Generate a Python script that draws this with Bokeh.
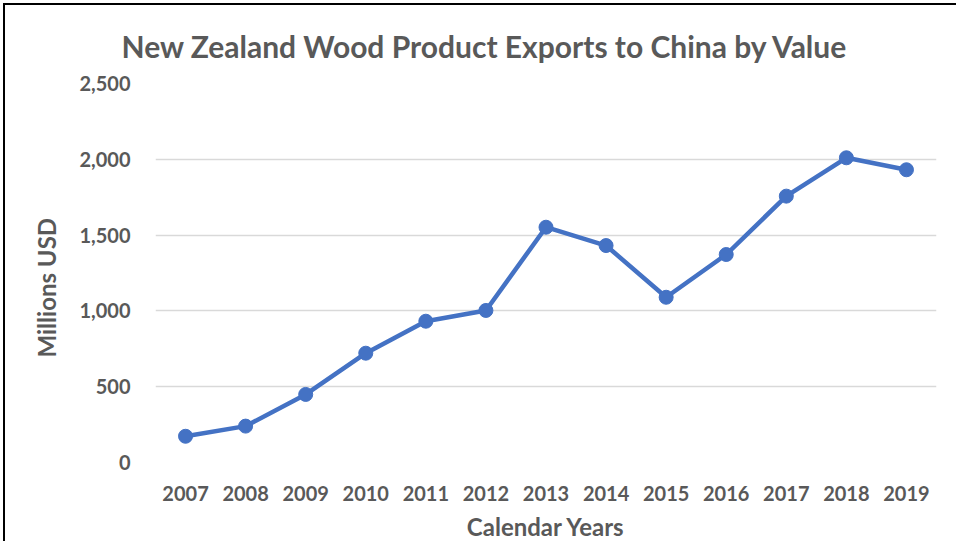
from bokeh.plotting import figure
from bokeh.models import (FactorRange, Range1d, NumeralTickFormatter, FixedTicker, Title)
from bokeh.embed import file_html
from bokeh.resources import INLINE

years = ["2007", "2008", "2009", "2010", "2011", "2012", "2013",
         "2014", "2015", "2016", "2017", "2018", "2019"]
values = [173, 240, 449, 721, 932, 1003, 1552, 1431, 1090, 1372, 1757, 2010, 1931]
y_ticks = [0, 500, 1000, 1500, 2000, 2500]

TEXT = "#595959"
FONT = "Lato"

p = figure(width=953, height=538, x_range=FactorRange(*years, range_padding=0),
           y_range=Range1d(0, 2500), output_backend="svg", toolbar_location=None,
           min_border_left=150, min_border_right=22, min_border_top=78,
           min_border_bottom=81,
           styles={"margin-left": "3px", "margin-top": "3px",
                   "border-left": "2px solid black", "border-top": "2px solid black",
                   "border-right": "none", "border-bottom": "none"})

p.title.text = "New Zealand Wood Product Exports to China by Value"
p.title.text_font = FONT
p.title.text_font_size = "30px"
p.title.text_font_style = "bold"
p.title.text_color = TEXT
p.title.align = "left"
p.title.offset = -34
p.title.standoff = 39

p.line(years, values, line_color="#4472C4", line_width=4.5)
p.scatter(years, values, size=14, fill_color="#4472C4", line_color="#4472C4")

p.outline_line_color = None
p.xgrid.grid_line_color = None
p.ygrid.grid_line_color = "#D9D9D9"
p.ygrid.grid_line_width = 1.5
p.yaxis.ticker = FixedTicker(ticks=y_ticks)
p.yaxis.formatter = NumeralTickFormatter(format="0,0")

for ax in (p.xaxis[0], p.yaxis[0]):
    ax.axis_line_color = None
    ax.major_tick_line_color = None
    ax.minor_tick_line_color = None
    ax.major_tick_out = 0
    ax.major_tick_in = 0
    ax.minor_tick_out = 0
    ax.major_label_text_font = FONT
    ax.major_label_text_font_size = "20px"
    ax.major_label_text_font_style = "bold"
    ax.major_label_text_color = TEXT
    ax.axis_label_text_font = FONT
    ax.axis_label_text_font_size = "24px"
    ax.axis_label_text_font_style = "bold"
    ax.axis_label_text_color = TEXT

p.xaxis.axis_label = "Calendar Years"
p.xaxis.major_label_standoff = 23
p.xaxis.axis_label_standoff = 8
p.yaxis.major_label_standoff = 25

ytitle = Title(text="Millions USD", text_font=FONT, text_font_size="24px",
               text_font_style="bold", text_color=TEXT, align="left",
               offset=105, vertical_align="middle", standoff=30)
p.add_layout(ytitle, "left")

open("out.html", "w").write(file_html(p, INLINE))
